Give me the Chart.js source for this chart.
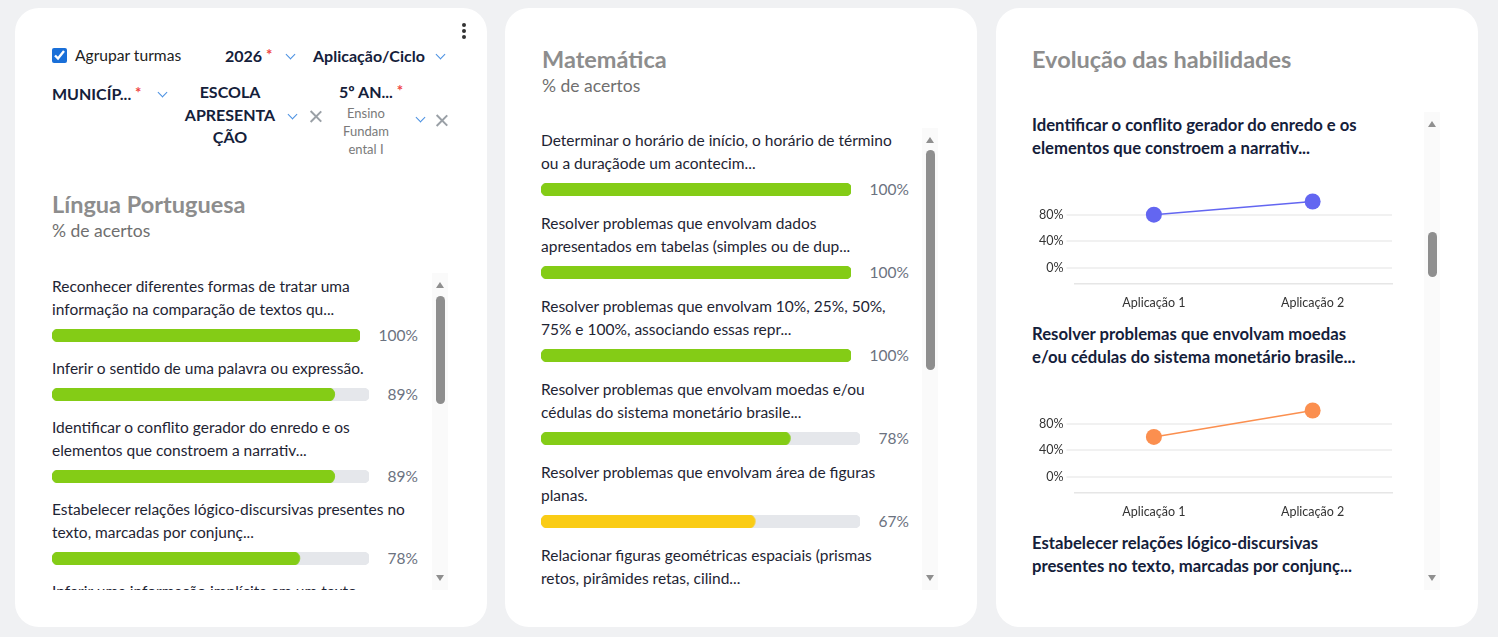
<!DOCTYPE html>
<html lang="pt-BR">
<head>
<meta charset="utf-8">
<title>Painel de habilidades</title>
<script src="https://cdn.jsdelivr.net/npm/chart.js@4.4.1/dist/chart.umd.min.js"></script>
<style>
  html, body { margin: 0; padding: 0; }
  body {
    width: 1498px; height: 637px; background: #f0f1f3; position: relative; overflow: hidden;
    font-family: 'Lato', 'Noto Sans', sans-serif; color: #1e2433;
  }
  .card { position: absolute; top: 8px; height: 619px; background: #fff; border-radius: 24px; }
  .abs { position: absolute; white-space: nowrap; }
  .bold { font-weight: 700; color: #14203a; font-size: 16px; }
  .req { color: #ef4444; font-size: 15px; position: relative; top: -2px; }
  .chev { position: absolute; width: 6px; height: 6px; border-right: 1.6px solid #4a90e2; border-bottom: 1.6px solid #4a90e2; transform: rotate(45deg); }
  .x { position: absolute; width: 13px; height: 13px; }
  .x:before, .x:after { content: ''; position: absolute; left: 6px; top: -1px; width: 1.5px; height: 15px; background: #9aa0a6; }
  .x:before { transform: rotate(45deg); }
  .x:after { transform: rotate(-45deg); }
  .title { position: absolute; font-size: 23.5px; font-weight: 700; color: #8d8d8d; line-height: 26px; white-space: nowrap; }
  .sub { position: absolute; font-size: 17.5px; color: #6f6f6f; line-height: 20px; }
  .list { position: absolute; overflow: hidden; }
  .skill { font-size: 15.5px; line-height: 23px; color: #1e2433; white-space: nowrap; }
  .row { display: flex; align-items: center; height: 20px; margin-top: 4px; margin-bottom: 12px; gap: 19px; }
  #matList .row { margin-bottom: 13px; }
  .barbox { flex: 1; height: 13px; position: relative; }
  .pct { font-size: 15.5px; color: #6b7280; }
  .track { position: absolute; width: 16px; background: #fafafa; }
  .up { position: absolute; left: 4px; width: 0; height: 0; border-left: 4px solid transparent; border-right: 4px solid transparent; border-bottom: 6px solid #8f8f8f; }
  .down { position: absolute; left: 4px; width: 0; height: 0; border-left: 4px solid transparent; border-right: 4px solid transparent; border-top: 6px solid #8f8f8f; }
  .thumb { position: absolute; left: 4px; width: 9px; background: #8e8e8e; border-radius: 5px; }
  .evoTitle { font-size: 16.7px; font-weight: 700; line-height: 23px; color: #14203a; white-space: nowrap; }
  .evoChart { position: relative; width: 368px; height: 154px; margin-bottom: 9px; }
  .dot { position: absolute; left: 462px; width: 4px; height: 4px; border-radius: 2px; background: #333; }
</style>
</head>
<body>

<!-- filtros -->
<div class="card" style="left:15px; width:472px;"></div>
<div class="dot" style="top:23px;"></div>
<div class="dot" style="top:29px;"></div>
<div class="dot" style="top:35px;"></div>

<input type="checkbox" checked style="position:absolute; left:52px; top:48px; width:15px; height:15px; margin:0; accent-color:#1a6fd8;">
<div class="abs" style="left:75px; top:45px; font-size:15.6px; line-height:20px; color:#222;">Agrupar turmas</div>

<div class="abs bold" style="left:225px; top:46px; line-height:20px;">2026 <span class="req">*</span></div>
<div class="chev" style="left:287px; top:51px;"></div>
<div class="abs bold" style="left:313px; top:46px; line-height:20px;">Aplicação/Ciclo</div>
<div class="chev" style="left:437px; top:51px;"></div>

<div class="abs bold" style="left:52px; top:84px; line-height:20px;">MUNICÍP... <span class="req">*</span></div>
<div class="chev" style="left:159px; top:89px;"></div>
<div class="abs bold" style="left:176px; top:81px; width:108px; text-align:center; line-height:22.5px; white-space:normal;">ESCOLA<br>APRESENTA<br>ÇÃO</div>
<div class="chev" style="left:289px; top:111px;"></div>
<div class="x" style="left:309px; top:110px;"></div>
<div class="abs bold" style="left:339px; top:82px; line-height:20px;">5º AN... <span class="req">*</span></div>
<div class="abs" style="left:334px; top:104px; width:64px; text-align:center; font-size:13px; line-height:18px; color:#7a7a7a; white-space:normal;">Ensino<br>Fundam<br>ental I</div>
<div class="chev" style="left:417px; top:114px;"></div>
<div class="x" style="left:435px; top:114px;"></div>

<div class="title" style="left:52px; top:191px;">Língua Portuguesa</div>
<div class="sub" style="left:52px; top:221px;">% de acertos</div>
<div class="list" id="lpList" style="left:52px; top:275px; width:366px; height:315px;"></div>
<div class="track" style="left:432px; top:273px; height:317px;">
  <div class="up" style="top:9px;"></div>
  <div class="thumb" style="top:23px; height:108px;"></div>
  <div class="down" style="top:302px;"></div>
</div>

<!-- matematica -->
<div class="card" style="left:505px; width:472px;"></div>
<div class="title" style="left:542px; top:46px;">Matemática</div>
<div class="sub" style="left:542px; top:76px;">% de acertos</div>
<div class="list" id="matList" style="left:541px; top:129px; width:368px; height:461px;"></div>
<div class="track" style="left:922px; top:128px; height:462px;">
  <div class="up" style="top:9px;"></div>
  <div class="thumb" style="top:22px; height:220px;"></div>
  <div class="down" style="top:447px;"></div>
</div>

<!-- evolucao -->
<div class="card" style="left:996px; width:482px;"></div>
<div class="title" style="left:1032px; top:46px;">Evolução das habilidades</div>
<div class="list" id="evoList" style="left:1032px; top:114px; width:372px; height:476px;"></div>
<div class="track" style="left:1424px; top:112px; height:478px;">
  <div class="up" style="top:9px;"></div>
  <div class="thumb" style="top:120px; height:45px;"></div>
  <div class="down" style="top:463px;"></div>
</div>

<script>
// Língua Portuguesa - % de acertos
const lpSkills = [
  ['Reconhecer diferentes formas de tratar uma', 'informação na comparação de textos qu...'],
  ['Inferir o sentido de uma palavra ou expressão.'],
  ['Identificar o conflito gerador do enredo e os', 'elementos que constroem a narrativ...'],
  ['Estabelecer relações lógico-discursivas presentes no', 'texto, marcadas por conjunç...'],
  ['Inferir uma informação implícita em um texto.']
];
const lpValues = [100, 89, 89, 78, null];

// Matemática - % de acertos
const matSkills = [
  ['Determinar o horário de início, o horário de término', 'ou a duraçãode um acontecim...'],
  ['Resolver problemas que envolvam dados', 'apresentados em tabelas (simples ou de dup...'],
  ['Resolver problemas que envolvam 10%, 25%, 50%,', '75% e 100%, associando essas repr...'],
  ['Resolver problemas que envolvam moedas e/ou', 'cédulas do sistema monetário brasile...'],
  ['Resolver problemas que envolvam área de figuras', 'planas.'],
  ['Relacionar figuras geométricas espaciais (prismas', 'retos, pirâmides retas, cilind...']
];
const matValues = [100, 100, 100, 78, 67, null];

// Evolução das habilidades
const evoSkills = [
  ['Identificar o conflito gerador do enredo e os', 'elementos que constroem a narrativ...'],
  ['Resolver problemas que envolvam moedas', 'e/ou cédulas do sistema monetário brasile...'],
  ['Estabelecer relações lógico-discursivas', 'presentes no texto, marcadas por conjunç...']
];
const evoLabels = ['Aplicação 1', 'Aplicação 2'];
const evoSeries = [[80, 100], [60, 100]];
const evoColors = ['#6366f1', '#fb8f4f'];
const yTicks = [0, 40, 80];

function barColor(v) {
  return v >= 70 ? '#84cc16' : '#facc15';
}

function fillList(el, skills, values) {
  skills.forEach((lines, i) => {
    const txt = document.createElement('div');
    txt.className = 'skill';
    txt.innerHTML = lines.join('<br>');
    el.appendChild(txt);
    const v = values[i];
    if (v == null) return;
    const row = document.createElement('div');
    row.className = 'row';
    const box = document.createElement('div');
    box.className = 'barbox';
    const cv = document.createElement('canvas');
    box.appendChild(cv);
    const pct = document.createElement('div');
    pct.className = 'pct';
    pct.textContent = v + '%';
    row.appendChild(box);
    row.appendChild(pct);
    el.appendChild(row);

    new Chart(cv, {
      type: 'bar',
      data: {
        labels: [''],
        datasets: [
          { data: [v], backgroundColor: barColor(v) },
          { data: [100], backgroundColor: '#e5e7eb' }
        ]
      },
      options: {
        indexAxis: 'y',
        responsive: true,
        maintainAspectRatio: false,
        animation: false,
        datasets: {
          bar: { grouped: false, barPercentage: 1, categoryPercentage: 1, borderRadius: 7, borderSkipped: false }
        },
        plugins: { legend: { display: false }, tooltip: { enabled: false } },
        scales: {
          x: { display: false, min: 0, max: 100 },
          y: { display: false }
        }
      }
    });
  });
}

fillList(document.getElementById('lpList'), lpSkills, lpValues);
fillList(document.getElementById('matList'), matSkills, matValues);

const evoList = document.getElementById('evoList');
evoSkills.forEach((lines, i) => {
  const t = document.createElement('div');
  t.className = 'evoTitle';
  t.innerHTML = lines.join('<br>');
  evoList.appendChild(t);
  if (!evoSeries[i]) return;
  const wrap = document.createElement('div');
  wrap.className = 'evoChart';
  const cv = document.createElement('canvas');
  wrap.appendChild(cv);
  evoList.appendChild(wrap);

  new Chart(cv, {
    type: 'line',
    data: {
      labels: evoLabels,
      datasets: [{
        data: evoSeries[i],
        borderColor: evoColors[i],
        backgroundColor: evoColors[i],
        borderWidth: 1.5,
        pointRadius: 8,
        pointHoverRadius: 8,
        pointBorderWidth: 0
      }]
    },
    options: {
      responsive: true,
      maintainAspectRatio: false,
      animation: false,
      clip: false,
      layout: { padding: { top: 25, bottom: 1, left: 4, right: 4 } },
      plugins: { legend: { display: false }, tooltip: { enabled: false } },
      scales: {
        x: {
          offset: true,
          grid: { display: false },
          border: { display: true, color: '#e6e6e6', width: 1.5 },
          ticks: { padding: 3, color: '#333', font: { family: 'Lato', size: 12.5 } }
        },
        y: {
          min: -25,
          max: 125,
          afterBuildTicks: axis => { axis.ticks = yTicks.map(v => ({ value: v })); },
          border: { display: false },
          grid: { color: '#f1f1f1', lineWidth: 2, tickLength: 8 },
          ticks: { padding: 3, color: '#333', font: { family: 'Lato', size: 12.5 }, callback: v => v + '%' }
        }
      }
    }
  });
});
</script>
</body>
</html>
